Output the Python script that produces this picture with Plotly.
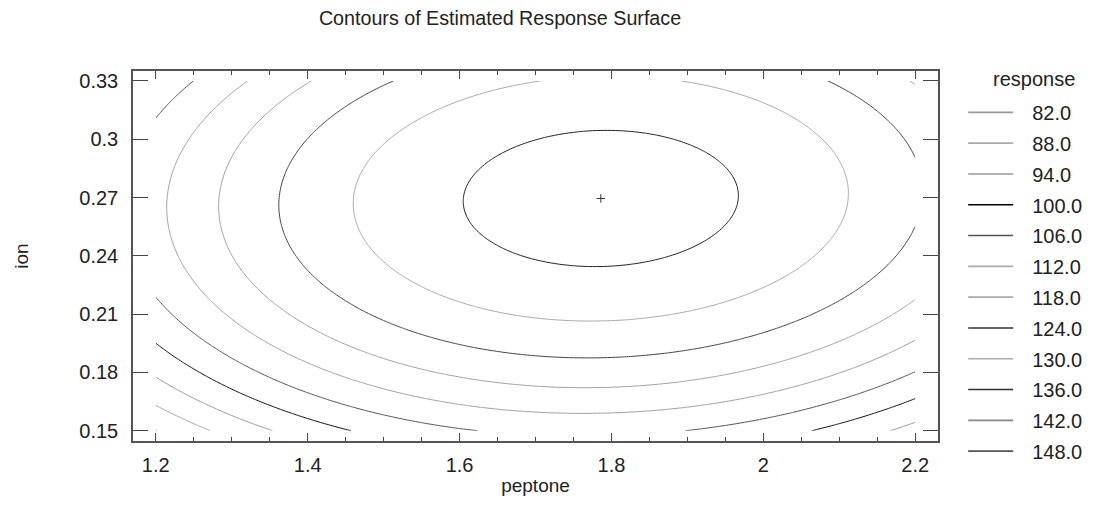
import numpy as np
import plotly.graph_objects as go

# ---- data ----
title = "Contours of Estimated Response Surface"
x_name = "peptone"
y_name = "ion"
legend_title = "response"

levels = [82.0, 88.0, 94.0, 100.0, 106.0, 112.0, 118.0, 124.0, 130.0, 136.0, 142.0, 148.0]
legend_colors = ["#999999", "#aaaaaa", "#999999", "#000000", "#555555", "#aaaaaa",
                 "#aaaaaa", "#333333", "#aaaaaa", "#333333", "#888888", "#555555"]
line_colors = ["#999999", "#aaaaaa", "#999999", "#111111", "#555555", "#a0a0a0",
               "#a0a0a0", "#444444", "#aaaaaa", "#222222", "#888888", "#555555"]

# fitted quadratic response model (estimated from the contour positions)
peak_x = 1.786      # peptone at optimum
peak_y = 0.2695     # ion at optimum
peak_value = 138.68
coef_xx = 81.8
coef_yy = 2185.0
coef_xy = 35.0

x_domain = [1.2, 2.2]
y_domain = [0.15, 0.33]
x_ticks = [1.2, 1.4, 1.6, 1.8, 2.0, 2.2]
x_ticklabels = ["1.2", "1.4", "1.6", "1.8", "2", "2.2"]
y_ticks = [0.15, 0.18, 0.21, 0.24, 0.27, 0.30, 0.33]
y_ticklabels = ["0.15", "0.18", "0.21", "0.24", "0.27", "0.3", "0.33"]

# ---- surface grid ----
xs = np.linspace(x_domain[0], x_domain[1], 201)
ys = np.linspace(y_domain[0], y_domain[1], 181)
X, Y = np.meshgrid(xs, ys)
dX = X - peak_x
dY = Y - peak_y
Z = peak_value - coef_xx * dX**2 - coef_yy * dY**2 + coef_xy * dX * dY

FONT = "Arial, Liberation Sans, sans-serif"
TXT = "#222222"
fig = go.Figure()

for lv, col in zip(levels, line_colors):
    fig.add_trace(go.Contour(
        x=xs, y=ys, z=Z,
        contours=dict(start=lv, end=lv, size=1, coloring="none"),
        line=dict(color=col, width=1),
        showscale=False, showlegend=False, hoverinfo="skip",
    ))

fig.add_trace(go.Scatter(
    x=[peak_x], y=[peak_y], mode="markers",
    marker=dict(symbol="cross-thin", size=6, line=dict(color="#333333", width=1)),
    showlegend=False, hoverinfo="skip",
))

for i, (lv, col) in enumerate(zip(levels, legend_colors)):
    fig.add_trace(go.Scatter(
        x=[None], y=[None], mode="lines",
        line=dict(color=col, width=1.6),
        name="\u2002\u2009" + f"{lv:.1f}", legendgroup=f"g{i}",
    ))

fig.update_layout(
    width=1099, height=516,
    margin=dict(l=133, r=160, t=71, b=75),
    paper_bgcolor="white", plot_bgcolor="white",
    font=dict(family=FONT, size=20, color=TXT),
    title=dict(text=title, x=500 / 1099, xanchor="center", y=1 - 18 / 516,
               yanchor="middle", font=dict(size=19.7, color=TXT)),
    showlegend=True,
    legend=dict(
        x=1.03, xanchor="left", y=0.941, yanchor="top",
        tracegroupgap=1.8, font=dict(size=20), itemwidth=45,
        bgcolor="rgba(0,0,0,0)", maxheight=500,
    ),
    annotations=[dict(
        text=legend_title, xref="paper", yref="paper",
        x=(1078 - 133) / 806, xanchor="right",
        y=1 - (79 - 71) / 370, yanchor="middle",
        showarrow=False, font=dict(size=20, color=TXT),
    )],
)

fig.update_xaxes(
    range=[1.17, 2.23], tickvals=x_ticks, ticktext=x_ticklabels,
    ticks="inside", ticklen=8, tickcolor="#444444", tickwidth=1,
    minor=dict(ticks="inside", ticklen=4, dtick=0.05, tick0=1.2, tickcolor="#444444"),
    showline=True, linecolor="#555555", linewidth=1.5, mirror="ticks",
    showgrid=False, zeroline=False, ticklabelstandoff=5,
    title=dict(text=x_name, font=dict(size=19), standoff=4),
)
fig.update_yaxes(
    range=[0.1447, 0.3351], tickvals=y_ticks, ticktext=y_ticklabels,
    ticks="inside", ticklen=15, tickcolor="#444444", tickwidth=1,
    showline=True, linecolor="#555555", linewidth=1.5, mirror="ticks",
    showgrid=False, zeroline=False, ticklabelstandoff=9,
    title=dict(text=y_name, font=dict(size=19), standoff=46),
)

fig.write_html("out.html")
